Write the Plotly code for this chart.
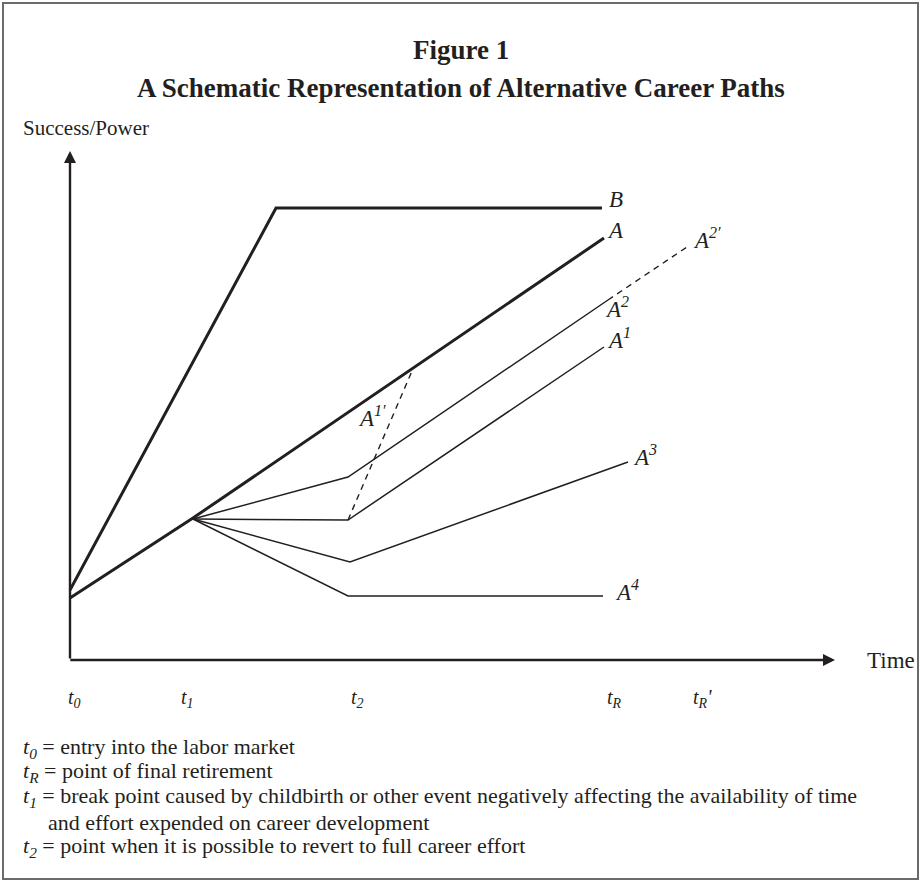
import plotly.graph_objects as go

# ---- data (schematic units: time on x, success/power on y) ----
t0, t1, t2, tR, tR2 = 0.0, 12.3, 27.8, 53.4, 62.0

B_x = [t0, 20.6, 53.2]
B_y = [7.0, 45.2, 45.2]

A_x = [t0, t1, tR]
A_y = [6.2, 14.2, 42.2]

A2_x = [t1, t2, 53.8]
A2_y = [14.1, 18.3, 36.0]
A2p_x = [53.8, 62.0]
A2p_y = [36.0, 41.5]

A1_x = [t1, t2, tR]
A1_y = [14.1, 14.0, 31.3]
A1p_x = [t2, 34.2]
A1p_y = [14.0, 28.9]

A3_x = [t1, 28.0, 55.8]
A3_y = [14.1, 9.8, 19.8]

A4_x = [t1, t2, 53.3]
A4_y = [14.1, 6.4, 6.4]

tick_x = [t0, t1, t2, tR, tR2]
tick_text = ["<i>t<sub>0</sub></i>", "<i>t<sub>1</sub></i>", "<i>t<sub>2</sub></i>",
             "<i>t<sub>R</sub></i>", "<i>t<sub>R</sub>'</i>"]

notes = [
    "<i>t<sub>0</sub></i> = entry into the labor market",
    "<i>t<sub>R</sub></i> = point of final retirement",
    "<i>t<sub>1</sub></i> = break point caused by childbirth or other event negatively affecting the availability of time",
    "and effort expended on career development",
    "<i>t<sub>2</sub></i> = point when it is possible to revert to full career effort",
]

W, H = 922, 882
INK = "#231f20"
FONT = "Liberation Serif"

# pixel mapping: px = 70 + 10*x ; py = 660 - 10*y
XR = [-7.0, (W - 70) / 10]
YR = [-(H - 660) / 10, 66.0]

fig = go.Figure()

def line(x, y, w, dash="solid"):
    fig.add_trace(go.Scatter(x=x, y=y, mode="lines", hoverinfo="skip",
                             line=dict(color=INK, width=w, dash=dash)))

line(B_x, B_y, 3)
line(A_x, A_y, 3)
line(A2_x, A2_y, 1.5)
line(A2p_x, A2p_y, 1.4, dash="6px,5px")
line(A1_x, A1_y, 1.5)
line(A1p_x, A1p_y, 1.4, dash="6px,5px")
line(A3_x, A3_y, 1.5)
line(A4_x, A4_y, 1.5)

ann = []
# axes with arrowheads
ann.append(dict(x=0, y=(660 - 151) / 10, ax=0, ay=0, xref="x", yref="y", axref="x", ayref="y",
                text="", showarrow=True, arrowhead=2, arrowsize=1, arrowwidth=2.4,
                arrowcolor=INK, standoff=0, startstandoff=0))
ann.append(dict(x=(835 - 70) / 10, y=0, ax=-0.12, ay=0, xref="x", yref="y", axref="x", ayref="y",
                text="", showarrow=True, arrowhead=2, arrowsize=1, arrowwidth=2.4,
                arrowcolor=INK, standoff=0, startstandoff=0))

# series labels at line ends
def lab(x, y, txt, dx, dy):
    ann.append(dict(x=x, y=y, xref="x", yref="y", text=txt, showarrow=False,
                    xshift=dx, yshift=dy, xanchor="center", yanchor="middle",
                    font=dict(family=FONT, size=23, color=INK)))

lab(B_x[-1], B_y[-1], "<i>B</i>", 14, 9)
lab(A_x[-1], A_y[-1], "<i>A</i>", 11, 8)
lab(A2p_x[-1], A2p_y[-1], "<i>A<sup>2′</sup></i>", 17, 7)
lab(A2_x[-1], A2_y[-1], "<i>A<sup>2</sup></i>", 9, -7)
lab(A1_x[-1], A1_y[-1], "<i>A<sup>1</sup></i>", 15, 9)
lab(A3_x[-1], A3_y[-1], "<i>A<sup>3</sup></i>", 17, 7)
lab(A4_x[-1], A4_y[-1], "<i>A<sup>4</sup></i>", 24, 6)
lab(A1p_x[0], A1p_y[0], "<i>A<sup>1′</sup></i>", 24, 104)

# time tick labels
shifts = [4, -6, 9, 10, 12]
for xv, tt, s in zip(tick_x, tick_text, shifts):
    ann.append(dict(x=xv, y=0, xref="x", yref="y", text=tt, showarrow=False,
                    xshift=s, yshift=-38, xanchor="center", yanchor="middle",
                    font=dict(family=FONT, size=20, color=INK)))

def P(px, py):
    return px / W, 1 - py / H

x_, y_ = P(865, 660)
ann.append(dict(x=x_, y=y_, xref="paper", yref="paper", text="Time", showarrow=False,
                xanchor="left", yanchor="middle", font=dict(family=FONT, size=23, color=INK)))
x_, y_ = P(21, 128)
ann.append(dict(x=x_, y=y_, xref="paper", yref="paper", text="Success/Power", showarrow=False,
                xanchor="left", yanchor="middle", font=dict(family=FONT, size=21, color=INK)))

# title
for txt, py in [("Figure 1", 50), ("A Schematic Representation of Alternative Career Paths", 88)]:
    x_, y_ = P(461, py)
    ann.append(dict(x=x_, y=y_, xref="paper", yref="paper", text="<b>" + txt + "</b>",
                    showarrow=False, xanchor="center", yanchor="middle",
                    font=dict(family=FONT, size=27, color=INK)))

# footnotes
note_pos = [(21, 748), (21, 772), (21, 797), (46, 822), (21, 847)]
for txt, (px, py) in zip(notes, note_pos):
    x_, y_ = P(px, py)
    ann.append(dict(x=x_, y=y_, xref="paper", yref="paper", text=txt, showarrow=False,
                    xanchor="left", yanchor="middle", font=dict(family=FONT, size=22, color=INK)))

fig.update_layout(
    width=W, height=H, margin=dict(l=0, r=0, t=0, b=0),
    paper_bgcolor="white", plot_bgcolor="white", showlegend=False,
    xaxis=dict(range=XR, visible=False, fixedrange=True),
    yaxis=dict(range=YR, visible=False, fixedrange=True),
    annotations=ann,
    shapes=[dict(type="rect", xref="paper", yref="paper", x0=3 / W, x1=1 - 4 / W,
                 y0=3 / H, y1=1 - 3 / H, line=dict(color="#6b6b6b", width=2))],
)

fig.write_html("out.html", config={"displayModeBar": False},
               post_script="document.body.style.margin='0';document.body.style.overflow='hidden';")
